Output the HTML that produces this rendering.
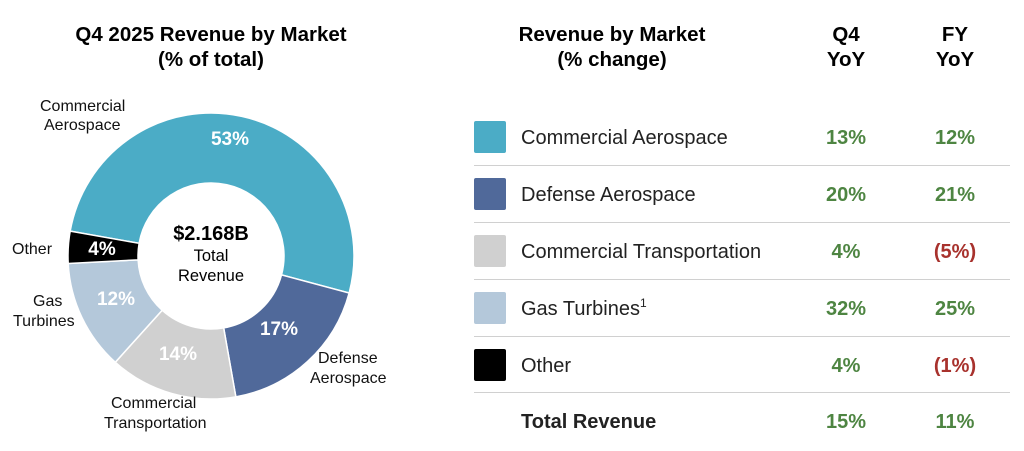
<!DOCTYPE html>
<html><head><meta charset="utf-8"><style>
body{margin:0;width:1024px;height:446px;background:#fff;overflow:hidden;font-family:"Liberation Sans",sans-serif;color:#111}
</style></head><body>
<svg width="1024" height="446" xmlns="http://www.w3.org/2000/svg" font-family="Liberation Sans, sans-serif">
<g id="donut"></g>
<g font-weight="bold" font-size="20.5" text-anchor="middle">
<text x="211" y="41">Q4 2025 Revenue by Market</text>
<text x="211" y="66">(% of total)</text>
<text x="612" y="41">Revenue by Market</text>
<text x="612" y="66">(% change)</text>
<text x="846" y="41">Q4</text><text x="846" y="66">YoY</text>
<text x="955" y="41">FY</text><text x="955" y="66">YoY</text>
</g>
<g font-size="16" fill="#111">
<text x="40" y="111">Commercial</text><text x="44" y="130">Aerospace</text>
<text x="12" y="254">Other</text>
<text x="33" y="306">Gas</text><text x="13" y="326">Turbines</text>
<text x="318" y="363">Defense</text><text x="310" y="383">Aerospace</text>
<text x="111" y="408">Commercial</text><text x="104" y="428">Transportation</text>
</g>
<g font-weight="bold" font-size="19" fill="#fff" text-anchor="middle">
<text x="230" y="145">53%</text>
<text x="279" y="335">17%</text>
<text x="178" y="360">14%</text>
<text x="116" y="305">12%</text>
<text x="102" y="255">4%</text>
</g>
<g text-anchor="middle">
<text x="211" y="240" font-weight="bold" font-size="20">$2.168B</text>
<text x="211" y="261" font-size="16.5">Total</text>
<text x="211" y="281" font-size="16.5">Revenue</text>
</g>
<g stroke="#d0d0d0" stroke-width="1">
<line x1="474" y1="165.5" x2="1010" y2="165.5"/><line x1="474" y1="222.5" x2="1010" y2="222.5"/>
<line x1="474" y1="279.5" x2="1010" y2="279.5"/><line x1="474" y1="336.5" x2="1010" y2="336.5"/>
<line x1="474" y1="392.5" x2="1010" y2="392.5"/>
</g>
<g>
<rect x="474" y="121" width="32" height="32" fill="#4BACC6" rx="2"/>
<rect x="474" y="178" width="32" height="32" fill="#50699A" rx="2"/>
<rect x="474" y="235" width="32" height="32" fill="#D0D0D0" rx="2"/>
<rect x="474" y="292" width="32" height="32" fill="#B4C8DA" rx="2"/>
<rect x="474" y="349" width="32" height="32" fill="#000" rx="2"/>
</g>
<g font-size="20" fill="#222">
<text x="521" y="144">Commercial Aerospace</text>
<text x="521" y="201">Defense Aerospace</text>
<text x="521" y="258">Commercial Transportation</text>
<text x="521" y="315">Gas Turbines<tspan font-size="12" dy="-8">1</tspan></text>
<text x="521" y="372">Other</text>
<text x="521" y="428" font-weight="bold">Total Revenue</text>
</g>
<g font-size="20" font-weight="bold" text-anchor="middle">
<text x="846" y="144" fill="#4E8542">13%</text><text x="955" y="144" fill="#4E8542">12%</text>
<text x="846" y="201" fill="#4E8542">20%</text><text x="955" y="201" fill="#4E8542">21%</text>
<text x="846" y="258" fill="#4E8542">4%</text><text x="955" y="258" fill="#A8322D">(5%)</text>
<text x="846" y="315" fill="#4E8542">32%</text><text x="955" y="315" fill="#4E8542">25%</text>
<text x="846" y="372" fill="#4E8542">4%</text><text x="955" y="372" fill="#A8322D">(1%)</text>
<text x="846" y="428" fill="#4E8542">15%</text><text x="955" y="428" fill="#4E8542">11%</text>
</g>
</svg>
<script>
(function(){
var cx=211,cy=256,R=143,r=73;
var segs=[[280,105,"#4BACC6"],[105,170,"#50699A"],[170,222,"#D0D0D0"],[222,267,"#B4C8DA"],[267,280,"#000"]];
function pt(a,rad){var t=(a-90)*Math.PI/180;return [cx+rad*Math.cos(t),cy+rad*Math.sin(t)];}
var g=document.getElementById("donut"),h="";
segs.forEach(function(s){var a0=s[0],a1=s[1];if(a1<a0)a1+=360;var L=(a1-a0)>180?1:0;
var p0=pt(a0,R),p1=pt(a1,R),q1=pt(a1,r),q0=pt(a0,r);
h+='<path d="M'+p0+' A'+R+' '+R+' 0 '+L+' 1 '+p1+' L'+q1+' A'+r+' '+r+' 0 '+L+' 0 '+q0+' Z" fill="'+s[2]+'" stroke="#fff" stroke-width="1.5"/>';});
g.innerHTML=h;
})();
</script>
</body></html>
